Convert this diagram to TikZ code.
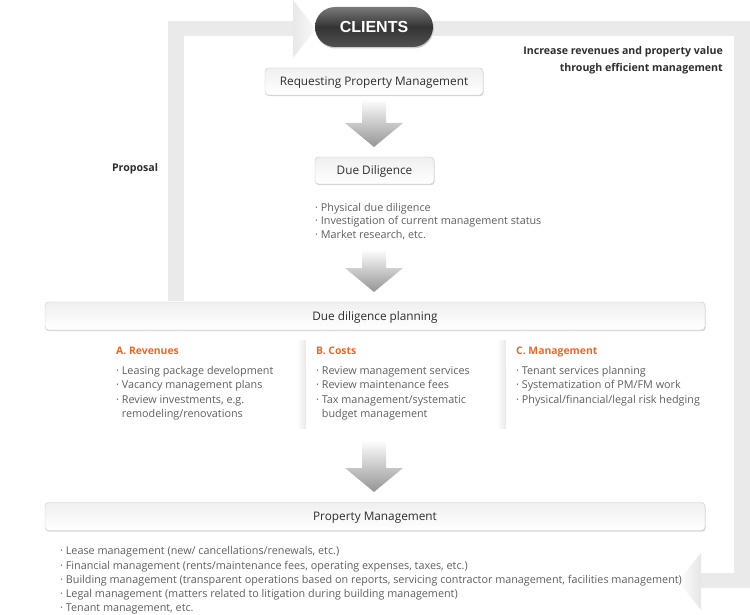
\documentclass[tikz,border=0pt]{standalone}
\usepackage{fontspec}
\setmainfont{Open Sans}
\newfontfamily\pillfont{Liberation Sans}
\usetikzlibrary{positioning,calc,shadows,backgrounds}

\definecolor{bandgray}{HTML}{EAEAEA}
\definecolor{txtgray}{HTML}{5E5E5E}
\definecolor{txtdark}{HTML}{2E2E2E}
\definecolor{headorange}{HTML}{F26522}

\tikzset{
  band/.style={line width=15.5pt, draw=bandgray, line join=miter},
  stepbox/.style={draw=black!22, rounded corners=3.5pt, top color=black!6, bottom color=white,
    text=txtdark, font=\fontsize{11.8}{14}\selectfont, inner sep=0pt, text height=9pt, text depth=0.6pt,
    drop shadow={shadow xshift=0.6pt, shadow yshift=-1.2pt, opacity=0.35, fill=black!45}},
  pill/.style={rounded corners=20pt, minimum width=118pt, minimum height=40pt,
    top color=black!52, bottom color=black!68, middle color=black!80, text=white,
    font=\pillfont\bfseries\fontsize{16}{16}\selectfont,
    drop shadow={shadow xshift=0.8pt, shadow yshift=-1.5pt, opacity=0.4}},
  bullets/.style={align=left, inner sep=0pt, text=txtgray, font=\fontsize{10.8}{14.4}\selectfont},
  colhead/.style={inner sep=0pt, text=headorange, font=\bfseries\fontsize{10.4}{12}\selectfont},
  note/.style={inner sep=0pt, text=txtdark, font=\bfseries\fontsize{10.6}{17}\selectfont},
  flow/.style={top color=white, bottom color=black!42},
  colsep/.style={left color=white, right color=black!9}
}

\begin{document}
\begin{tikzpicture}[x=1pt, y=-1pt]
  \useasboundingbox (0,0) rectangle (750,615);

  % Clients
  \node[pill] (clients) at (374,27) {CLIENTS};

  % Steps
  \node[stepbox, minimum width=218pt, minimum height=27pt] (request) at (374,81.5) {Requesting Property Management};
  \node[stepbox, minimum width=119pt, minimum height=27pt] (duedil) at (374.5,170.5) {Due Diligence};
  \node[bullets, anchor=north west, font=\fontsize{10.8}{13.7}\selectfont] (ddlist) at (315,202.8) {%
    · Physical due diligence\\· Investigation of current management status\\· Market research, etc.};
  \node[stepbox, minimum width=660pt, minimum height=28pt] (planning) at (375,316) {Due diligence planning};
  \node[stepbox, minimum width=660pt, minimum height=28pt] (pm) at (375,516.5) {Property Management};

  % Planning columns
  \node[colhead, anchor=base west] (rev) at (116,354.5) {A. Revenues};
  \node[colhead, anchor=base west] (cost) at (316,354.5) {B. Costs};
  \node[colhead, anchor=base west] (mgmt) at (516,354.5) {C. Management};
  \node[bullets, anchor=north west] (revlist) at (116,366.1) {%
    · Leasing package development\\· Vacancy management plans\\· Review investments, e.g.\\\phantom{·\ }remodeling/renovations};
  \node[bullets, anchor=north west] (costlist) at (316,366.1) {%
    · Review management services\\· Review maintenance fees\\· Tax management/systematic\\\phantom{·\ }budget management};
  \node[bullets, anchor=north west] (mgmtlist) at (516,366.1) {%
    · Tenant services planning\\· Systematization of PM/FM work\\· Physical/financial/legal risk hedging};
  \shade[colsep] (297,340) rectangle (306,428);
  \shade[colsep] (497,340) rectangle (506,428);

  % Property management tasks
  \node[bullets, anchor=north west, font=\fontsize{10.8}{14.3}\selectfont] (pmlist) at (60,546.3) {%
    · Lease management (new/ cancellations/renewals, etc.)\\
    · Financial management (rents/maintenance fees, operating expenses, taxes, etc.)\\
    · Building management (transparent operations based on reports, servicing contractor management, facilities management)\\
    · Legal management (matters related to litigation during building management)\\
    · Tenant management, etc.};

  % Notes
  \node[note] (proposal) at (135,169) {Proposal};
  \node[note, align=right, anchor=north east] (goal) at (723,46) {Increase revenues and property value\\through efficient management};

  % Flow arrows
  \coordinate (a1top) at (374,99);  \coordinate (a1tip) at (374,147);
  \coordinate (a2top) at (374,249); \coordinate (a2tip) at (374,292);
  \coordinate (a3top) at (374,440); \coordinate (a3tip) at (374,492);
  \foreach \t/\p in {a1top/a1tip, a2top/a2tip, a3top/a3tip}
    \shade[flow] ($(\t)+(-12,0)$) -- ($(\p)+(-12,-24)$) -- ($(\p)+(-29,-24)$) -- (\p)
      -- ($(\p)+(29,-24)$) -- ($(\p)+(12,-24)$) -- ($(\t)+(12,0)$) -- cycle;

  % Return band
  \coordinate (bandstart) at (176,301);
  \coordinate (tipin) at (293,28.5);
  \coordinate (bandend) at (701,580.5);
  \begin{scope}[on background layer]
    \draw[band] (bandstart) |- (tipin);
    \draw[band] (clients.east |- tipin) -- (742,28.5) -- (742,580.5) -- (bandend);
    \shade[left color=black!9, right color=black!2] (tipin |- 0,0) -- (316,29) -- (293,58) -- cycle;
    \shade[left color=white, right color=black!10] (701,553) -- (678,581.5) -- (701,610) -- cycle;
  \end{scope}
\end{tikzpicture}
\end{document}
